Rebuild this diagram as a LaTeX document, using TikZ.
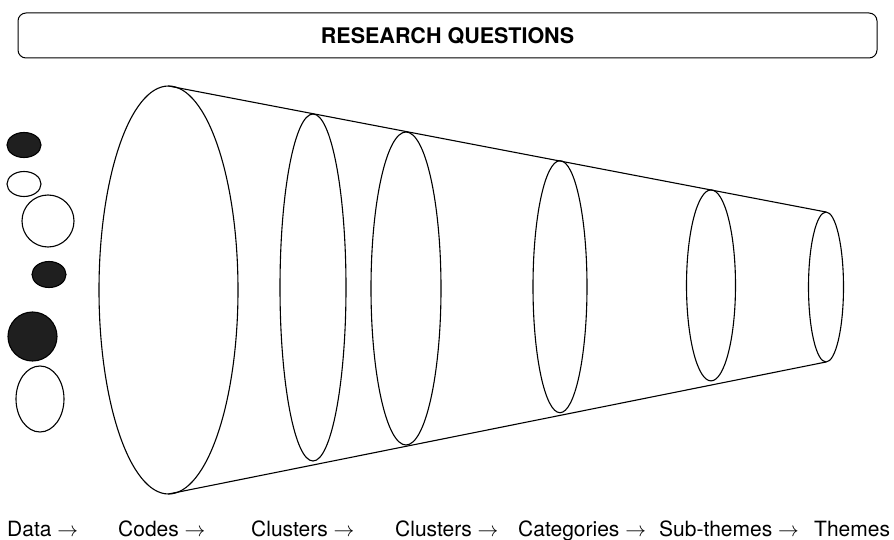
\documentclass[tikz,border=0pt]{standalone}
\usepackage{fontspec}
\setmainfont{TeX Gyre Heros}
\usetikzlibrary{shapes.geometric}
\tikzset{
  stage/.style={draw,ellipse,line width=1.1pt,inner sep=0pt,outer sep=0pt},
  blob/.style={draw,ellipse,line width=1.1pt,inner sep=0pt,outer sep=0pt},
  full/.style={fill=black!88},
  lab/.style={anchor=base west,inner sep=0pt,font=\fontsize{21}{25}\selectfont}
}
\begin{document}
\begin{tikzpicture}[x=1pt,y=-1pt]
\useasboundingbox (0,0) rectangle (894,540);
% research questions banner
\node[draw,rounded corners=8pt,line width=1pt,minimum width=859pt,minimum height=45pt,
  font=\fontsize{21.5}{25}\selectfont\bfseries] (rq) at (447.5,35.5) {RESEARCH QUESTIONS};
% raw data
\node[blob,full,minimum width=34pt,minimum height=25pt] (d1) at (24,145) {};
\node[blob,minimum width=34pt,minimum height=25pt] (d2) at (24,184) {};
\node[blob,minimum width=52pt,minimum height=52pt] (d3) at (48,221) {};
\node[blob,full,minimum width=34pt,minimum height=26pt] (d4) at (49,274.5) {};
\node[blob,full,minimum width=49pt,minimum height=49pt] (d5) at (32.5,336.5) {};
\node[blob,minimum width=48pt,minimum height=66pt] (d6) at (40,399) {};
% funnel
\node[stage,minimum width=139pt,minimum height=408pt] (e1) at (168.5,290) {};
\node[stage,minimum width=66pt,minimum height=347pt] (e2) at (313,287.5) {};
\node[stage,minimum width=70pt,minimum height=313pt] (e3) at (406,288.5) {};
\node[stage,minimum width=54pt,minimum height=252pt] (e4) at (560,286.7) {};
\node[stage,minimum width=49pt,minimum height=191pt] (e5) at (711,285.4) {};
\node[stage,minimum width=35pt,minimum height=150pt] (e6) at (826,287) {};
\draw[line width=1.1pt] (e1.north)--(e6.north);
\draw[line width=1.1pt] (e1.south)--(e6.south);
% steps
\node[lab] (l1) at (7,536) {Data $\rightarrow$};
\node[lab] (l2) at (118,536) {Codes $\rightarrow$};
\node[lab] (l3) at (251,536) {Clusters $\rightarrow$};
\node[lab] (l4) at (395,536) {Clusters $\rightarrow$};
\node[lab] (l5) at (518,536) {Categories $\rightarrow$};
\node[lab] (l6) at (659,536) {Sub-themes $\rightarrow$};
\node[lab] (l7) at (814,536) {Themes};
\end{tikzpicture}
\end{document}
